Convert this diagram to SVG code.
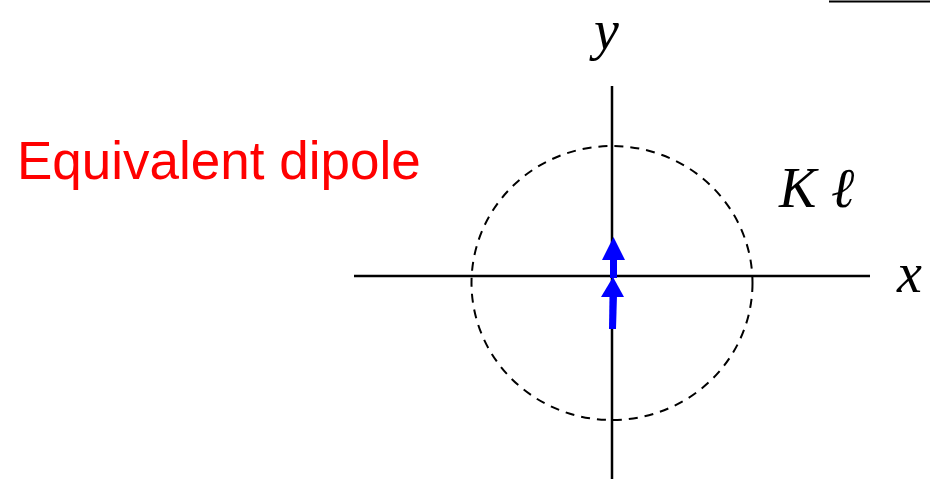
<svg xmlns="http://www.w3.org/2000/svg" width="930" height="479" viewBox="0 0 930 479">
<style>
.axis{stroke:#000;stroke-width:2.5;fill:none}
.math{font-family:"Liberation Serif","Times New Roman",serif;font-style:italic;font-size:56px;fill:#000}
.dip{fill:#0000FF}
</style>
<rect width="930" height="479" fill="#fff"/>
<line x1="829" y1="1.5" x2="930" y2="1.5" stroke="#000" stroke-width="2"/>
<text x="17" y="179" font-family="Liberation Sans, Arial, sans-serif" font-size="53" fill="#FF0000">Equivalent dipole</text>
<g id="axes">
<line class="axis" x1="354" y1="276" x2="870" y2="276"/>
<line class="axis" x1="612" y1="86" x2="612" y2="479"/>
</g>
<g id="circle">
<ellipse cx="612" cy="283" rx="140.5" ry="137" fill="none" stroke="#000" stroke-width="2" stroke-dasharray="9,7"/>
</g>
<g id="dipole">
<rect class="dip" x="610" y="258" width="7" height="20"/>
<polygon class="dip" points="602,260 613.5,237 625,260"/>
<polygon class="dip" points="609.5,295 617,295 616,329 609,329"/>
<polygon class="dip" points="601,297 613,277 624,297"/>
</g>
<text class="math" x="594" y="49" font-size="55">y</text>
<text class="math" x="897" y="292" font-size="58">x</text>
<text class="math" x="779" y="207" font-size="62">K</text>
<text class="math" x="831" y="207" font-size="60">ℓ</text>
</svg>
